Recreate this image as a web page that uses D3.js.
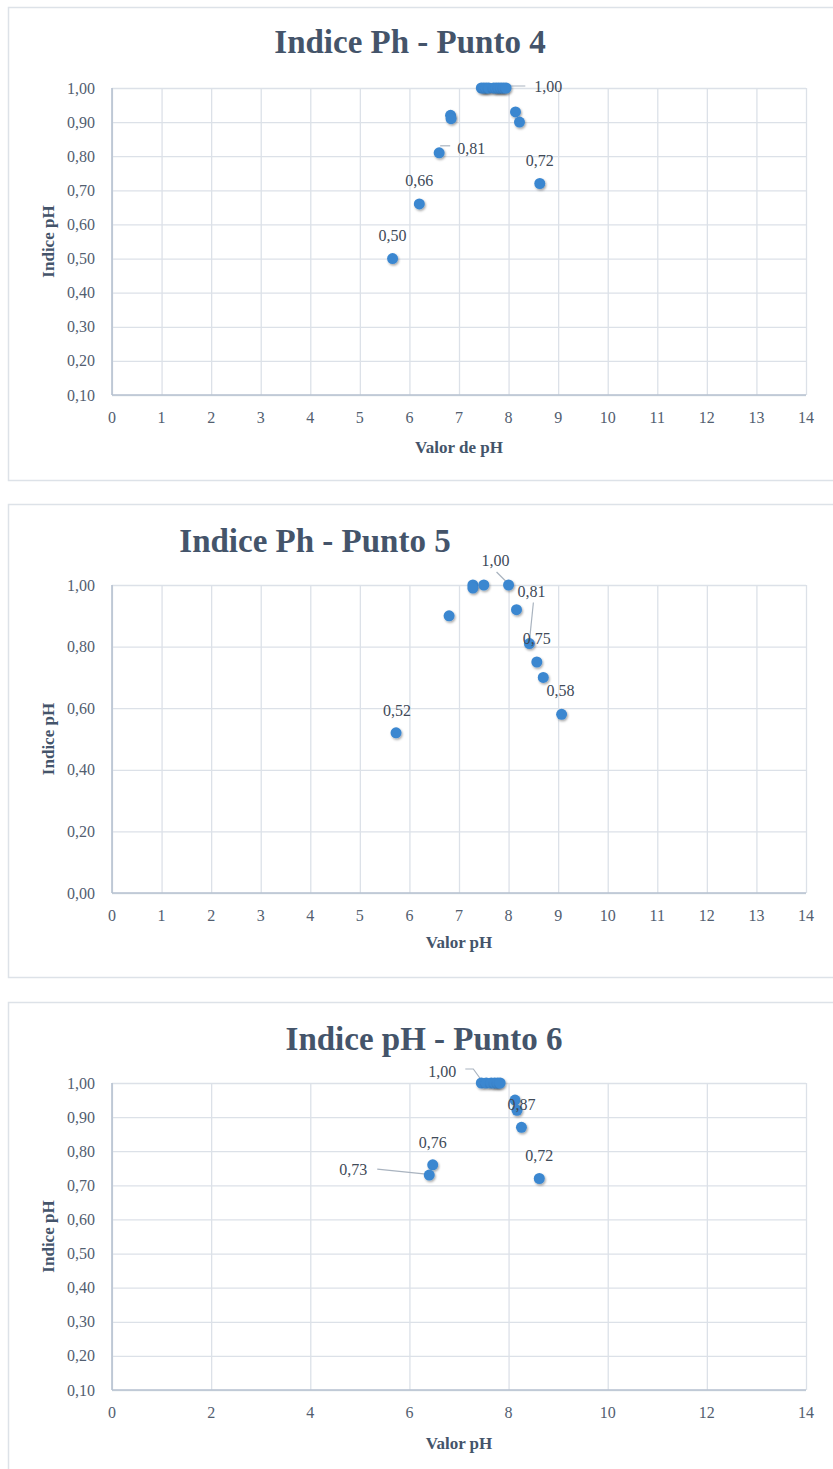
<!DOCTYPE html>
<html>
<head>
<meta charset="utf-8">
<script src="https://cdn.jsdelivr.net/npm/d3@7"></script>
<style>
  body { margin: 0; background: #fff; }
  svg { display: block; }
</style>
</head>
<body>
<div id="chart"></div>
<script>
// datos - Punto 4
const p4X = [5.66, 6.20, 6.60, 6.83, 6.84, 7.45, 7.50, 7.55, 7.60, 7.70, 7.75, 7.80, 7.85, 7.90, 7.95, 8.14, 8.22, 8.63];
const p4Y = [0.50, 0.66, 0.81, 0.92, 0.91, 1.00, 1.00, 1.00, 1.00, 1.00, 1.00, 1.00, 1.00, 1.00, 1.00, 0.93, 0.90, 0.72];
const p4Labels = [[0, "0,50"], [1, "0,66"], [2, "0,81"], [5, "1,00"], [17, "0,72"]];

// datos - Punto 5
const p5X = [5.73, 6.80, 7.28, 7.28, 7.50, 8.00, 8.16, 8.42, 8.57, 8.70, 9.07];
const p5Y = [0.52, 0.90, 1.00, 0.99, 1.00, 1.00, 0.92, 0.81, 0.75, 0.70, 0.58];
const p5Labels = [[0, "0,52"], [5, "1,00"], [7, "0,81"], [8, "0,75"], [10, "0,58"]];

// datos - Punto 6
const p6X = [7.45, 7.55, 7.65, 7.72, 7.78, 7.83, 8.13, 8.17, 8.26, 8.62, 6.47, 6.40];
const p6Y = [1.00, 1.00, 1.00, 1.00, 1.00, 1.00, 0.95, 0.92, 0.87, 0.72, 0.76, 0.73];
const p6Labels = [[0, "1,00"], [8, "0,87"], [9, "0,72"], [10, "0,76"], [11, "0,73"]];

// ticks
const xTicksAll = [0, 1, 2, 3, 4, 5, 6, 7, 8, 9, 10, 11, 12, 13, 14];
const xTicksEven = [0, 2, 4, 6, 8, 10, 12, 14];
const yTicksTenth = [0.1, 0.2, 0.3, 0.4, 0.5, 0.6, 0.7, 0.8, 0.9, 1.0];
const yTicksFifth = [0, 0.2, 0.4, 0.6, 0.8, 1.0];

const W = 833, H = 1469;
const serif = "'Liberation Serif', 'Times New Roman', serif";

const svg = d3.select("#chart").append("svg")
  .attr("width", W).attr("height", H);

// sombra de los marcadores
svg.append("defs").append("filter")
    .attr("id", "shadow")
    .attr("x", "-50%").attr("y", "-50%").attr("width", "200%").attr("height", "200%")
  .append("feDropShadow")
    .attr("dx", 1).attr("dy", 1.5).attr("stdDeviation", 1)
    .attr("flood-color", "#000").attr("flood-opacity", 0.35);

// configuracion de cada panel (posiciones y estilo de etiquetas)
const charts = [
  {
    box: [8.5, 7.5, 840, 473], title: "Indice Ph - Punto 4", titleX: 410, titleY: 53,
    plot: [112, 88, 806, 395], yDomain: [0.1, 1.0], yTicks: yTicksTenth, xTicks: xTicksAll,
    xTitle: "Valor de pH", xTitleY: 453,
    xs: p4X, ys: p4Y, labels: p4Labels,
    lab: [
      {dx: 0, dy: -18},
      {dx: 0, dy: -18},
      {dx: 18, dy: 1, anchor: "start", leader: [[1, -7], [11, -7]]},
      {dx: 53, dy: 4, anchor: "start", leader: [[2, -2], [44, -2]]},
      {dx: 0, dy: -18}
    ]
  },
  {
    box: [8.5, 504.5, 840, 473], title: "Indice Ph - Punto 5", titleX: 315, titleY: 552,
    plot: [112, 585, 806, 893], yDomain: [0, 1.0], yTicks: yTicksFifth, xTicks: xTicksAll,
    xTitle: "Valor pH", xTitleY: 948,
    xs: p5X, ys: p5Y, labels: p5Labels,
    lab: [
      {dx: 1, dy: -17},
      {dx: -13, dy: -19, leader: [[-12, -13], [-2, -3]]},
      {dx: 2, dy: -47, leader: [[4, -41], [0, -2]]},
      {dx: 0, dy: -18},
      {dx: -1, dy: -18}
    ]
  },
  {
    box: [8.5, 1002.5, 840, 480], title: "Indice pH - Punto 6", titleX: 424, titleY: 1050,
    plot: [112, 1083, 806, 1390], yDomain: [0.1, 1.0], yTicks: yTicksTenth, xTicks: xTicksEven,
    xTitle: "Valor pH", xTitleY: 1449,
    xs: p6X, ys: p6Y, labels: p6Labels,
    lab: [
      {dx: -39, dy: -6, leader: [[-16, -14], [-8, -14], [0, -3]]},
      {dx: 0, dy: -17},
      {dx: 0, dy: -18},
      {dx: 0, dy: -17},
      {dx: -76, dy: 0, leader: [[-52, -6], [-3, -1]]}
    ]
  }
];

charts.forEach(function(c) {
  const [x0, y0, x1, y1] = c.plot;
  const g = svg.append("g");

  // borde del panel
  g.append("rect")
    .attr("x", c.box[0]).attr("y", c.box[1])
    .attr("width", c.box[2]).attr("height", c.box[3])
    .attr("fill", "#fff").attr("stroke", "#DDE2E8").attr("stroke-width", 1.5);

  const x = d3.scaleLinear().domain([0, 14]).range([x0, x1]);
  const y = d3.scaleLinear().domain(c.yDomain).range([y1, y0]);

  // lineas de cuadricula
  g.append("g")
    .attr("transform", `translate(0, ${y1})`)
    .call(d3.axisBottom(x).tickValues(c.xTicks).tickSize(-(y1 - y0)).tickFormat(""))
    .call(s => s.select(".domain").remove())
    .call(s => s.selectAll("line").attr("stroke", "#DCE1E8").attr("stroke-width", 1.3));
  g.append("g")
    .attr("transform", `translate(${x0}, 0)`)
    .call(d3.axisLeft(y).tickValues(c.yTicks).tickSize(-(x1 - x0)).tickFormat(""))
    .call(s => s.select(".domain").remove())
    .call(s => s.selectAll("line").attr("stroke", "#DCE1E8").attr("stroke-width", 1.3));

  // ejes
  g.append("line").attr("x1", x0).attr("x2", x1).attr("y1", y1).attr("y2", y1)
    .attr("stroke", "#B7C2D0").attr("stroke-width", 1.6);
  g.append("line").attr("x1", x0).attr("x2", x0).attr("y1", y0).attr("y2", y1)
    .attr("stroke", "#B7C2D0").attr("stroke-width", 1.6);

  // etiquetas de los ticks
  g.selectAll(".xt").data(c.xTicks).join("text")
    .attr("x", d => x(d)).attr("y", y1 + 28)
    .attr("text-anchor", "middle")
    .style("font", `16px ${serif}`).attr("fill", "#525E70")
    .text(d => d);
  g.selectAll(".yt").data(c.yTicks).join("text")
    .attr("x", x0 - 17).attr("y", d => y(d)).attr("dy", "0.35em")
    .attr("text-anchor", "end")
    .style("font", `16px ${serif}`).attr("fill", "#525E70")
    .text(d => d3.format(".2f")(d).replace(".", ","));

  // titulos
  g.append("text")
    .attr("x", c.titleX).attr("y", c.titleY)
    .attr("text-anchor", "middle")
    .style("font", `bold 33px ${serif}`).attr("fill", "#44546A")
    .text(c.title);
  g.append("text")
    .attr("x", (x0 + x1) / 2).attr("y", c.xTitleY)
    .attr("text-anchor", "middle")
    .style("font", `bold 17px ${serif}`).attr("fill", "#44546A")
    .text(c.xTitle);
  g.append("text")
    .attr("transform", `translate(54, ${(y0 + y1) / 2}) rotate(-90)`)
    .attr("text-anchor", "middle")
    .style("font", `bold 17px ${serif}`).attr("fill", "#44546A")
    .text("Indice pH");

  // lineas guia de etiquetas
  c.labels.forEach(function(l, i) {
    const o = c.lab[i];
    if (!o.leader) return;
    const px = x(c.xs[l[0]]), py = y(c.ys[l[0]]);
    g.append("path")
      .attr("d", d3.line()(o.leader.map(p => [px + p[0], py + p[1]])))
      .attr("fill", "none").attr("stroke", "#A9B3BF").attr("stroke-width", 1.2);
  });

  // puntos
  g.selectAll(".pt").data(c.xs.map((v, i) => [v, c.ys[i]])).join("circle")
    .attr("cx", d => x(d[0])).attr("cy", d => y(d[1]))
    .attr("r", 5.5)
    .attr("fill", "#3B87D0")
    .attr("filter", "url(#shadow)");

  // etiquetas de datos
  c.labels.forEach(function(l, i) {
    const o = c.lab[i];
    g.append("text")
      .attr("x", x(c.xs[l[0]]) + o.dx).attr("y", y(c.ys[l[0]]) + o.dy)
      .attr("text-anchor", o.anchor || "middle")
      .style("font", `16px ${serif}`).attr("fill", "#404A58")
      .text(l[1]);
  });
});
</script>
</body>
</html>
